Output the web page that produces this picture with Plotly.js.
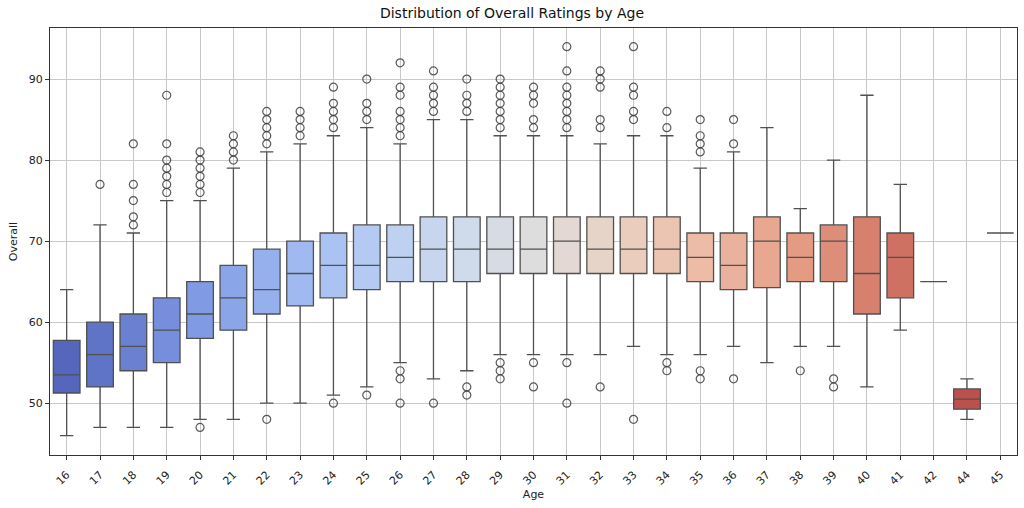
<!DOCTYPE html>
<html>
<head>
<meta charset="utf-8">
<script src="https://cdn.plot.ly/plotly-3.0.1.min.js"></script>
<style>
  html, body { margin: 0; padding: 0; background: #fff; }
  #chart { width: 1024px; height: 508px; }
</style>
</head>
<body>
<div id="chart"></div>
<script>
// ages shown on the x axis (43 is missing in the data)
const ages = ['16','17','18','19','20','21','22','23','24','25','26','27','28','29','30',
              '31','32','33','34','35','36','37','38','39','40','41','42','44','45'];

// box statistics
const lowerWhisker = [46,47,47,47,48,48,50,50,51,52,55,53,54,56,56,56,56,57,56,56,57,55,57,57,52,59,65,48,71];
const q1Values     = [51.25,52,54,55,58,59,61,62,63,64,65,65,65,66,66,66,66,66,66,65,64,64.25,65,65,61,63,65,49.25,71];
const medians      = [53.5,56,57,59,61,63,64,66,67,67,68,69,69,69,69,70,69,69,69,68,67,70,68,70,66,68,65,50.5,71];
const q3Values     = [57.75,60,61,63,65,67,69,70,71,72,72,73,73,73,73,73,73,73,73,71,71,73,71,72,73,71,65,51.75,71];
const upperWhisker = [64,72,71,75,75,79,81,82,83,84,82,85,85,83,83,83,82,83,83,79,81,84,74,80,88,77,65,53,71];

// fliers per age
const outliers = [
  [],
  [77],
  [82,77,75,73,72],
  [88,82,80,79,78,77,76],
  [81,80,79,78,77,76,47],
  [83,82,81,80],
  [86,85,84,83,82,48],
  [86,85,84,83],
  [89,87,86,85,84,50],
  [90,87,86,85,51],
  [92,89,88,86,85,84,83,54,53,50],
  [91,89,88,87,86,50],
  [90,88,87,86,52,51],
  [90,89,88,87,86,85,84,55,54,53],
  [89,88,87,85,84,55,52],
  [94,91,89,88,87,86,85,84,55,50],
  [91,90,89,85,84,52],
  [94,89,88,86,85,48],
  [86,84,55,54],
  [85,83,82,81,54,53],
  [85,82,53],
  [],
  [54],
  [53,52],
  [],
  [],
  [],
  [],
  []
];

// coolwarm colormap stops, sampled like seaborn and desaturated to 0.75
const coolwarm = [
  [59,76,192],[68,90,204],[77,104,215],[87,117,225],[98,130,234],[108,142,241],[119,154,247],
  [130,165,251],[141,176,254],[152,185,255],[163,194,255],[174,201,253],[184,208,249],[194,213,244],
  [204,217,238],[213,219,230],[221,221,221],[229,216,209],[236,211,197],[241,204,184],[245,196,172],
  [247,187,160],[247,177,148],[247,166,135],[244,154,123],[241,141,111],[236,127,99],[229,112,88],
  [222,96,77],[213,80,66],[203,62,56],[192,40,47],[180,4,38]
];

function sampleCoolwarm(t) {
  const pos = t * (coolwarm.length - 1);
  const i = Math.min(Math.floor(pos), coolwarm.length - 2);
  const f = pos - i;
  return coolwarm[i].map((c, k) => c + (coolwarm[i + 1][k] - c) * f);
}

function desaturate(rgb, prop) {
  const [r, g, b] = rgb.map(v => v / 255);
  const mx = Math.max(r, g, b), mn = Math.min(r, g, b);
  const l = (mx + mn) / 2;
  if (mx === mn) return rgb;
  const d = mx - mn;
  const s = l > 0.5 ? d / (2 - mx - mn) : d / (mx + mn);
  const s2 = s * prop;
  const c2 = s2 * (1 - Math.abs(2 * l - 1));
  const mn2 = l - c2 / 2;
  return [r, g, b].map(v => Math.round((mn2 + (v - mn) / d * c2) * 255));
}

const n = ages.length;
const colors = ages.map((a, i) => {
  const c = desaturate(sampleCoolwarm((i + 1) / (n + 1)), 0.75);
  return 'rgb(' + c.map(Math.round).join(',') + ')';
});

const lineColor = '#505050';

const traces = ages.map((age, i) => ({
  type: 'box',
  x: [age],
  q1: [q1Values[i]],
  median: [medians[i]],
  q3: [q3Values[i]],
  lowerfence: [lowerWhisker[i]],
  upperfence: [upperWhisker[i]],
  width: 0.8,
  whiskerwidth: 0.5,
  fillcolor: colors[i],
  line: { color: lineColor, width: 1.3 },
  boxpoints: false,
  hoverinfo: 'skip',
  showlegend: false
}));

const flierX = [];
const flierY = [];
outliers.forEach((vals, i) => {
  vals.forEach(v => { flierX.push(ages[i]); flierY.push(v); });
});

traces.push({
  type: 'scatter',
  mode: 'markers',
  x: flierX,
  y: flierY,
  marker: {
    symbol: 'circle-open',
    size: 8,
    color: 'rgba(60,60,60,0.85)',
    line: { width: 1.2 }
  },
  hoverinfo: 'skip',
  showlegend: false
});

const axisFont = { family: 'DejaVu Sans, sans-serif', size: 11, color: '#222' };

const layout = {
  width: 1024,
  height: 508,
  paper_bgcolor: '#fff',
  plot_bgcolor: '#fff',
  margin: { l: 50, r: 7, t: 28, b: 53 },
  boxmode: 'overlay',
  title: {
    text: 'Distribution of Overall Ratings by Age',
    font: { family: 'DejaVu Sans, sans-serif', size: 14, color: '#111' },
    x: 0.5, xanchor: 'center', y: 0.975, yanchor: 'middle'
  },
  xaxis: {
    type: 'category',
    categoryorder: 'array',
    categoryarray: ages,
    range: [-0.5, n - 0.5],
    tickangle: -45,
    tickfont: axisFont,
    ticklabelstandoff: 4,
    ticks: 'outside',
    ticklen: 4,
    tickcolor: '#333',
    showgrid: true,
    gridcolor: '#c8c8c8',
    gridwidth: 1,
    showline: true,
    linecolor: '#333',
    linewidth: 1,
    mirror: true,
    zeroline: false,
    title: { text: 'Age', font: axisFont, standoff: 2 }
  },
  yaxis: {
    range: [43.6, 96.3],
    tickvals: [50, 60, 70, 80, 90],
    tickfont: axisFont,
    ticks: 'outside',
    ticklen: 4,
    tickcolor: '#333',
    showgrid: true,
    gridcolor: '#c8c8c8',
    gridwidth: 1,
    showline: true,
    linecolor: '#333',
    linewidth: 1,
    mirror: true,
    zeroline: false,
    title: { text: 'Overall', font: axisFont, standoff: 8 }
  }
};

Plotly.newPlot('chart', traces, layout, { displayModeBar: false, staticPlot: true });
</script>
</body>
</html>
